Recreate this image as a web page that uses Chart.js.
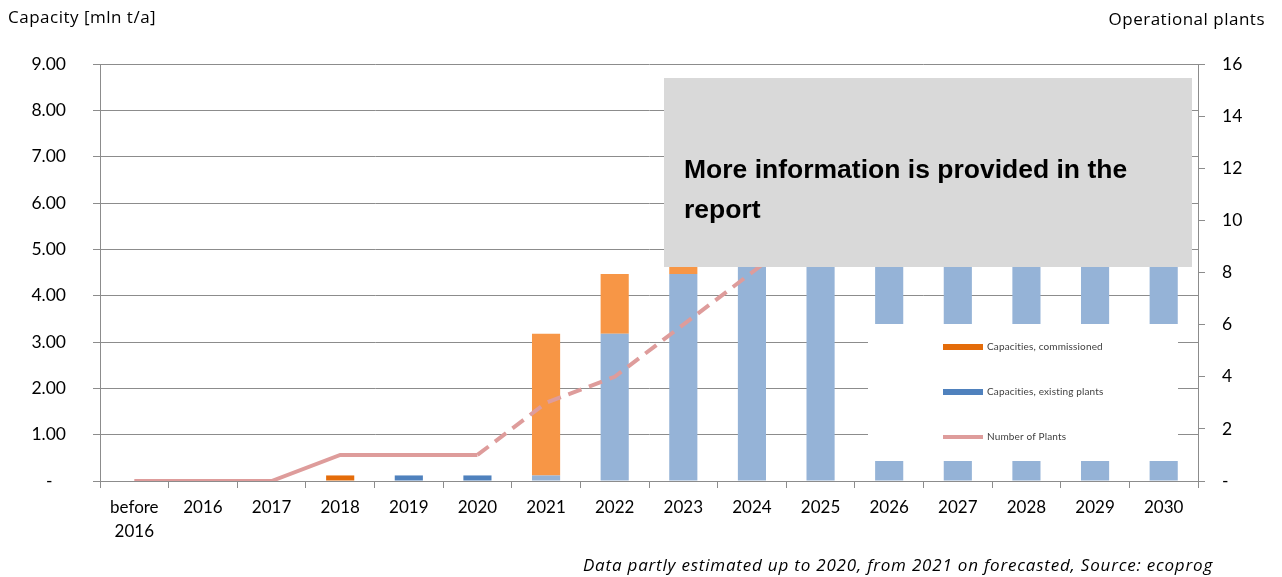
<!DOCTYPE html>
<html>
<head>
<meta charset="utf-8">
<script src="https://cdn.jsdelivr.net/npm/chart.js@4.4.1/dist/chart.umd.min.js"></script>
<style>
  html, body { margin: 0; padding: 0; background: #fff; }
  #wrap { width: 1282px; height: 577px; position: relative; }
</style>
</head>
<body>
<div id="wrap"><canvas id="capChart"></canvas></div>
<script>
// categories and values (values behind the boxes are estimates)
const categories = [['before', '2016'], '2016', '2017', '2018', '2019', '2020', '2021', '2022',
    '2023', '2024', '2025', '2026', '2027', '2028', '2029', '2030'];
const existingPlants = [0, 0, 0, 0, 0.12, 0.12, 0.12, 3.18, 4.47, 5.47, 5.97, 6.47, 6.97, 7.27, 7.57, 7.77];
const commissioned = [0, 0, 0, 0.12, 0, 0, 3.06, 1.29, 1.0, 0.5, 0.5, 0.5, 0.3, 0.3, 0.2, 0];
const operationalPlants = [0, 0, 0, 1, 1, 1, 3, 4, 6, 8, 10, 11, 12, 13, 14, 15];
const forecastFrom = 6; // 2021 onwards lighter bars, dashed line

const capacityTicks = [0, 1, 2, 3, 4, 5, 6, 7, 8, 9];
const plantTicks = [0, 2, 4, 6, 8, 10, 12, 14, 16];

const gridColor = '#8c8c8c';
const fontFamily = 'Lato, "Open Sans", sans-serif';
const textFamily = '"Open Sans", Lato, sans-serif';

const pointColors = (dark, light) => categories.map((c, i) => i < forecastFrom ? dark : light);

const decorations = {
    id: 'decorations',
    afterDatasetsDraw(chart) {
        const ctx = chart.ctx;
        ctx.save();

        // legend box
        ctx.fillStyle = '#ffffff';
        ctx.fillRect(868, 324, 310, 137);
        ctx.font = '10px ' + fontFamily;
        ctx.letterSpacing = '0.15px';
        ctx.textBaseline = 'middle';
        const items = [
            { text: 'Capacities, commissioned', color: '#E46C0A', y: 347, line: false },
            { text: 'Capacities, existing plants', color: '#4F81BD', y: 392, line: false },
            { text: 'Number of Plants', color: '#DE9C9B', y: 437, line: true }
        ];
        items.forEach(it => {
            if (it.line) {
                ctx.strokeStyle = it.color;
                ctx.lineWidth = 4;
                ctx.beginPath();
                ctx.moveTo(943, it.y);
                ctx.lineTo(983, it.y);
                ctx.stroke();
            } else {
                ctx.fillStyle = it.color;
                ctx.fillRect(943, it.y - 3, 40, 6);
            }
            ctx.fillStyle = '#404040';
            ctx.fillText(it.text, 987, it.y);
        });

        // grey info box
        ctx.letterSpacing = '0px';
        ctx.fillStyle = '#d9d9d9';
        ctx.fillRect(664, 78, 528, 189);
        ctx.fillStyle = '#000000';
        ctx.font = 'bold 26.5px "Liberation Sans", Arial, sans-serif';
        ctx.textBaseline = 'alphabetic';
        ctx.textAlign = 'left';
        ctx.fillText('More information is provided in the', 684, 178);
        ctx.fillText('report', 684, 218);
        ctx.restore();
    },
    afterDraw(chart) {
        const ctx = chart.ctx;
        ctx.save();
        ctx.fillStyle = '#000000';
        ctx.font = '17px ' + textFamily;
        ctx.letterSpacing = '0.5px';
        ctx.textBaseline = 'alphabetic';
        ctx.textAlign = 'left';
        ctx.fillText('Capacity [mln t/a]', 8, 23);
        ctx.textAlign = 'right';
        ctx.fillText('Operational plants', 1265, 25);
        ctx.font = 'italic 17px ' + textFamily;
        ctx.letterSpacing = '0.8px';
        ctx.fillText('Data partly estimated up to 2020, from 2021 on forecasted, Source: ecoprog', 1213, 571);
        ctx.restore();
    }
};

new Chart(document.getElementById('capChart').getContext('2d'), {
    type: 'bar',
    data: {
        labels: categories,
        datasets: [
            {
                type: 'line',
                label: 'Number of Plants',
                data: operationalPlants,
                yAxisID: 'y1',
                borderColor: '#DE9C9B',
                borderWidth: 4,
                pointRadius: 0,
                tension: 0,
                order: 0,
                segment: {
                    borderDash: c => c.p0DataIndex >= forecastFrom - 1 ? [14, 8] : undefined
                }
            },
            {
                label: 'Capacities, existing plants',
                data: existingPlants,
                backgroundColor: pointColors('#4F81BD', '#95B3D7'),
                yAxisID: 'y',
                stack: 'cap',
                order: 1
            },
            {
                label: 'Capacities, commissioned',
                data: commissioned,
                backgroundColor: pointColors('#E46C0A', '#F79646'),
                yAxisID: 'y',
                stack: 'cap',
                order: 1
            }
        ]
    },
    options: {
        responsive: true,
        maintainAspectRatio: false,
        animation: false,
        layout: { padding: { top: 64, left: 0, right: 0, bottom: 0 } },
        datasets: {
            bar: { categoryPercentage: 1, barPercentage: 0.41 }
        },
        plugins: {
            legend: { display: false },
            tooltip: { enabled: false }
        },
        scales: {
            x: {
                stacked: true,
                grid: {
                    offset: true,
                    drawOnChartArea: false,
                    tickLength: 7,
                    color: gridColor
                },
                border: { color: gridColor },
                ticks: {
                    color: '#000',
                    padding: 8,
                    maxRotation: 0,
                    autoSkip: false,
                    font: { family: fontFamily, size: 17, lineHeight: 1.4 }
                },
                afterFit: s => { s.height = 96; }
            },
            y: {
                stacked: true,
                position: 'left',
                min: 0,
                max: 9,
                afterBuildTicks: s => { s.ticks = capacityTicks.map(v => ({ value: v })); },
                grid: { color: gridColor, tickLength: 7 },
                border: { color: gridColor },
                ticks: {
                    color: '#000',
                    padding: 27,
                    font: { family: fontFamily, size: 17.5 },
                    callback: v => v === 0 ? '-   ' : v.toFixed(2)
                },
                afterFit: s => { s.width = 100; }
            },
            y1: {
                position: 'right',
                min: 0,
                max: 16,
                afterBuildTicks: s => { s.ticks = plantTicks.map(v => ({ value: v })); },
                grid: { drawOnChartArea: false, color: gridColor, tickLength: 7 },
                border: { color: gridColor },
                ticks: {
                    color: '#000',
                    padding: 17,
                    font: { family: fontFamily, size: 17.5 },
                    callback: v => v === 0 ? '-' : String(v)
                },
                afterFit: s => { s.width = 84; }
            }
        }
    },
    plugins: [decorations]
});
</script>
</body>
</html>
